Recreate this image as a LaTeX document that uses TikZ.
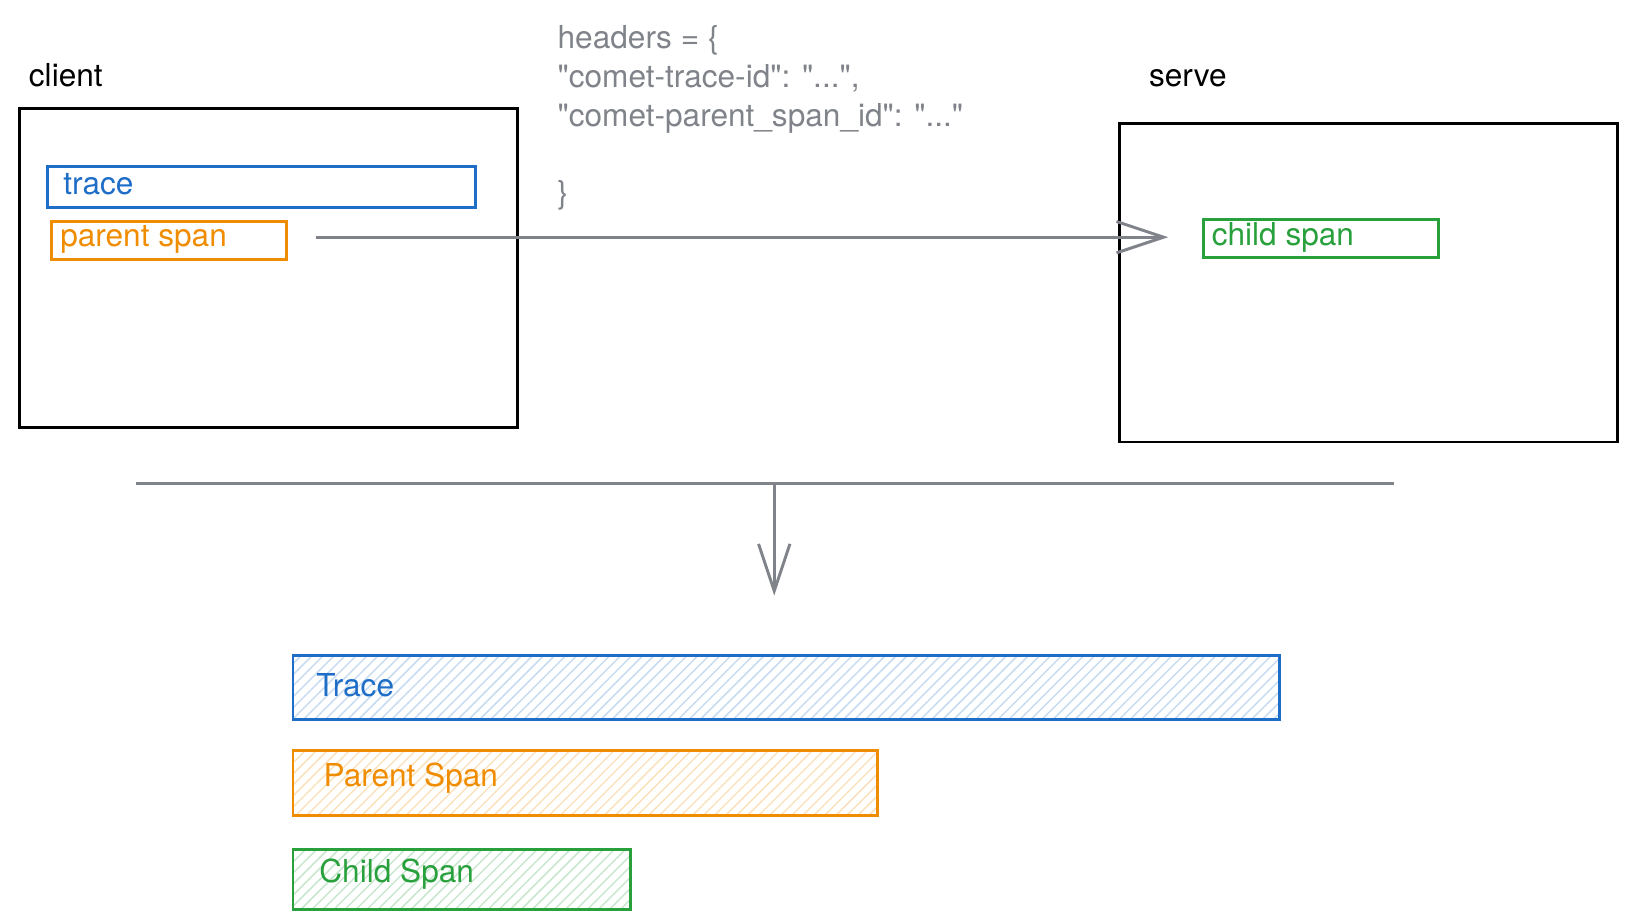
\documentclass[tikz,border=0pt]{standalone}
\usepackage{fontspec}
\setmainfont{TeX Gyre Heros}
\usetikzlibrary{positioning,patterns,arrows.meta}
\definecolor{tblue}{RGB}{30,110,200}
\definecolor{torange}{RGB}{240,140,0}
\definecolor{tgreen}{RGB}{40,160,60}
\definecolor{tgray}{RGB}{128,132,138}
\newcommand{\dq}{\textquotedbl}
\begin{document}
\begin{tikzpicture}[x=0.01cm,y=-0.01cm,
				font=\fontsize{8.6pt}{10.5pt}\selectfont,
				machine/.style={draw=black, thick},
				span/.style={rectangle, draw=#1, thick, text=#1, anchor=north west, inner sep=0pt},
				bar/.style={span=#1, pattern=north east lines, pattern color=#1!25},
				tag/.style={anchor=west, inner sep=0pt},
				flow/.style={draw=tgray, thick, -{Straight Barb[length=4.5mm, width=3mm, line width=0.8pt]}}
			]
			\useasboundingbox (0,0) rectangle (1560,884);
			% client side
			\node[tag] (client) at (27,72) {client};
			\draw[machine] (19,104) rectangle (495,409);
			\node[span=tblue, minimum width=4.09cm, minimum height=0.39cm] (trace) at (44,158) {};
			\node[tag, text=tblue] at (60,176) {trace};
			\node[span=torange, minimum width=2.25cm, minimum height=0.36cm] (parent) at (48,211) {};
			\node[tag, text=torange] at (57,229) {parent span};
			% server side
			\node[tag] (serve) at (1099,75) {serve};
			\draw[machine] (1071,118) rectangle (1548,423);
			\node[span=tgreen, minimum width=2.25cm, minimum height=0.36cm] (child) at (1150,209) {};
			\node[tag, text=tgreen] at (1159,227) {child span};
			% propagated headers
			\node[tag, text=tgray, align=left, anchor=north west] (headers) at (533,24) {headers = \{\\\dq comet-trace-id\dq: \dq...\dq,\\\dq comet-parent\_span\_id\dq: \dq...\dq\\\strut\\\}};
			\coordinate (src) at (302,227);
			\coordinate (dst) at (1118,227);
			\draw[flow] (src) -- (dst);
			% result
			\coordinate (splitL) at (130,463);
			\coordinate (splitR) at (1334,463);
			\coordinate (down) at (741,570);
			\draw[tgray, thick] (splitL) -- (splitR);
			\draw[flow] (741,462) -- (down);
			\node[bar=tblue, minimum width=9.44cm, minimum height=0.61cm] (Trace) at (279,626) {};
			\node[tag, text=tblue] at (302,656) {Trace};
			\node[bar=torange, minimum width=5.59cm, minimum height=0.62cm] (Parent) at (279,717) {};
			\node[tag, text=torange] at (309,745) {Parent Span};
			\node[bar=tgreen, minimum width=3.23cm, minimum height=0.57cm] (Child) at (279,812) {};
			\node[tag, text=tgreen] at (305,837) {Child Span};
			\end{tikzpicture}
\end{document}
